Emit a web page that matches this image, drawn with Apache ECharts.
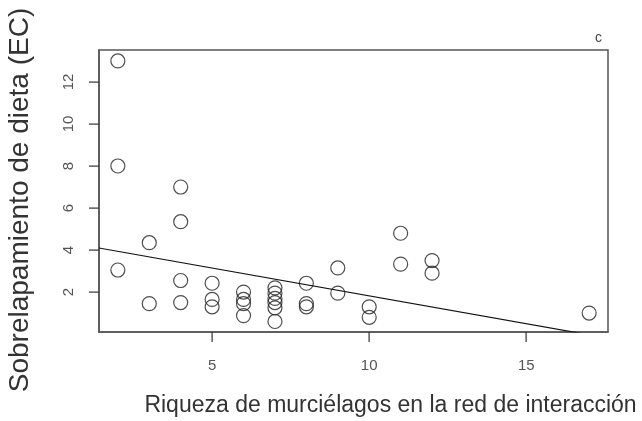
<!DOCTYPE html>
<html>
<head>
<meta charset="utf-8">
<script src="https://cdn.jsdelivr.net/npm/echarts@6/dist/echarts.min.js"></script>
<style>html,body{margin:0;padding:0;background:#fff;}#c{width:642px;height:421px;}</style>
</head>
<body>
<div id="c"></div>
<script>
// Data
const riqueza = [2,2,2, 3,3, 4,4,4,4, 5,5,5, 6,6,6,6, 7,7,7,7,7,7, 8,8,8, 9,9, 10,10, 11,11, 12,12, 17];
const sobrelap = [13.0,8.0,3.05, 4.35,1.45, 7.0,5.35,2.55,1.5, 2.42,1.65,1.3, 2.0,1.65,1.45,0.88, 2.2,1.95,1.7,1.5,1.25,0.6, 2.42,1.45,1.3, 3.15,1.95, 1.3,0.8, 4.8,3.33, 3.5,2.9, 1.0];
const regIntercept = 4.47;
const regSlope = -0.265;
const xTicks = [5,10,15];
const yTicks = [2,4,6,8,10,12];
const xRange = [1.4, 17.6];
const yRange = [0.1, 13.52];
const xTitle = 'Riqueza de murciélagos en la red de interacción';
const yTitle = 'Sobrelapamiento de dieta (EC)';
const panelLabel = 'c';

const points = riqueza.map((x,i)=>[x, sobrelap[i]]);
const linePts = xRange.map(x=>[x, regIntercept + regSlope*x]);
const TICK_LEN = 10;

const font = "'Liberation Sans', Arial, sans-serif";
const chart = echarts.init(document.getElementById('c'));
chart.setOption({
  animation:false,
  grid:{left:99, top:50, right:34, bottom:89, outerBoundsMode:'none', containLabel:false, show:true, borderColor:'#555', borderWidth:1.5, backgroundColor:'transparent'},
  xAxis:{
    type:'value', min:xRange[0], max:xRange[1],
    axisLine:{show:true, lineStyle:{color:'#555', width:1.5}}, splitLine:{show:false},
    axisTick:{show:false},
    axisLabel:{customValues:xTicks, color:'#555', fontSize:15, fontFamily:font, margin:26},
    name:xTitle, nameLocation:'middle', nameGap:62,
    nameTextStyle:{fontSize:23, color:'#333', fontFamily:font, padding:[0,0,0,74]}
  },
  yAxis:{
    type:'value', min:yRange[0], max:yRange[1],
    axisLine:{show:true, lineStyle:{color:'#555', width:1.5}}, splitLine:{show:false},
    axisTick:{show:false},
    axisLabel:{customValues:yTicks, color:'#555', fontSize:15, fontFamily:font, rotate:90, margin:23},
    name:yTitle, nameLocation:'middle', nameGap:65,
    nameTextStyle:{fontSize:28, color:'#333', fontFamily:font, padding:[0,18,0,0]}
  },
  series:[
    {type:'scatter', data:points, symbol:'circle', symbolSize:14,
     itemStyle:{color:'rgba(0,0,0,0)', borderColor:'#222', borderWidth:1.2}},
    {type:'line', data:linePts, showSymbol:false, clip:true,
     lineStyle:{color:'#111', width:1.2}}
  ]
});

// Tick marks outside the box, positioned through the chart's own axis scales
const els = [];
yTicks.forEach(v=>{
  const p = chart.convertToPixel({gridIndex:0}, [xRange[0], v]);
  els.push({type:'rect', z:100, silent:true, shape:{x:p[0]-TICK_LEN, y:Math.round(p[1])-0.5, width:TICK_LEN, height:1.2}, style:{fill:'#333'}});
});
xTicks.forEach(v=>{
  const p = chart.convertToPixel({gridIndex:0}, [v, yRange[0]]);
  els.push({type:'rect', z:100, silent:true, shape:{x:Math.round(p[0])-0.5, y:p[1], width:1.2, height:TICK_LEN}, style:{fill:'#333'}});
});
const topRight = chart.convertToPixel({gridIndex:0}, [xRange[1], yRange[1]]);
els.push({type:'text', x:topRight[0]-13, y:topRight[1]-19, silent:true, style:{text:panelLabel, fontSize:14, fill:'#444', fontFamily:font}});
chart.setOption({graphic:{elements:els}});
</script>
</body>
</html>
